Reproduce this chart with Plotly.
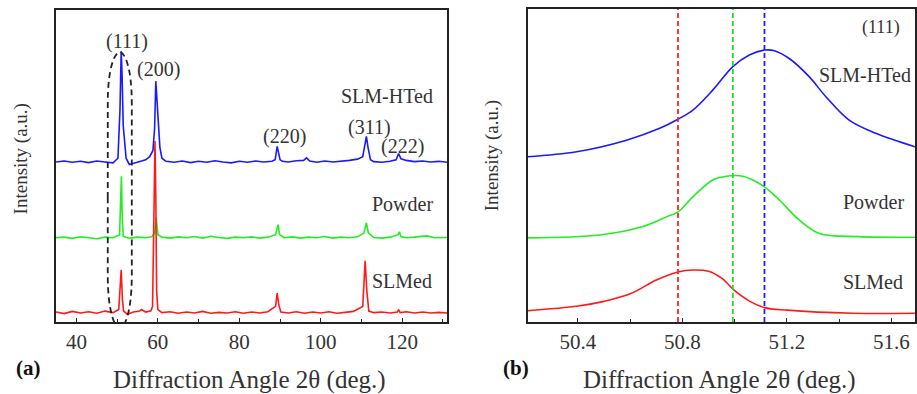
import plotly.graph_objects as go

# ---------------- Panel (a): full XRD patterns (a.u., offset stacked) ----------------
hted_x = [35, 37, 39, 41, 43, 45, 47, 49, 50.2, 50.7, 51.0, 51.2, 51.5, 51.8, 52.2, 53, 54, 55, 56, 57,
          58, 58.8, 59.2, 59.5, 59.8, 60.1, 60.5, 61, 62, 64, 66, 68, 70, 72, 74, 76, 78, 80, 82, 84,
          86, 88, 88.8, 89.3, 89.6, 90.0, 90.6, 92, 94, 95.8, 96.5, 97.3, 99, 101, 103, 105, 107, 109,
          110.3, 110.8, 111.2, 111.6, 112.2, 113, 115, 117, 118.5, 119.1, 119.7, 121, 123, 125, 127, 129, 131]
hted_y = [51.3, 51.6, 51.2, 51.5, 51.1, 51.6, 51.3, 51.0, 52.5, 68.0, 86.8, 80.0, 63.0, 58.0, 52.5, 50.5, 50.8, 51.3, 51.6, 52.0,
          53.0, 55.0, 62.0, 77.2, 70.0, 63.0, 56.0, 52.5, 51.5, 51.2, 51.6, 51.1, 51.5, 51.2, 51.7, 51.3, 51.0, 51.5, 51.2, 51.6,
          51.3, 51.5, 52.0, 56.3, 54.0, 52.0, 51.5, 51.3, 51.7, 51.8, 52.6, 51.6, 51.2, 51.6, 51.3, 51.5, 51.8, 52.2,
          53.0, 56.5, 59.5, 56.0, 52.0, 51.4, 51.2, 51.5, 52.0, 54.0, 52.3, 51.8, 51.4, 51.6, 51.3, 51.5, 51.2]

powder_x = [35, 37, 39, 41, 43, 45, 47, 49, 50.6, 50.9, 51.05, 51.25, 51.5, 53, 55, 57, 58.5, 59.2, 59.6, 60.0,
            61, 63, 65, 67, 69, 71, 73, 75, 77, 79, 81, 83, 85, 87, 88.9, 89.5, 89.9, 91, 93, 95,
            97, 99, 101, 103, 105, 107, 109, 110.6, 111.2, 111.7, 113, 115, 117, 119.0, 119.3, 119.7, 121, 123,
            126, 128, 131]
powder_y = [27.0, 27.2, 26.8, 27.3, 27.0, 26.7, 27.2, 27.0, 28.0, 40.0, 46.7, 34.0, 27.5, 26.8, 27.2, 27.0, 27.3, 28.5, 33.4, 28.0,
            27.2, 26.9, 27.3, 27.0, 27.4, 26.9, 27.5, 27.1, 26.8, 27.2, 27.0, 27.3, 26.9, 27.2, 28.0, 31.2, 28.0, 27.0, 27.3, 26.9,
            27.2, 27.0, 27.4, 26.9, 27.2, 27.0, 27.3, 28.5, 31.8, 28.5, 27.1, 26.9, 27.2, 28.0, 28.9, 27.3, 27.0, 27.2,
            27.6, 27.0, 27.1]

slmed_x = [35, 37, 39, 41, 43, 45, 47, 49, 50.4, 50.7, 51.0, 51.3, 51.6, 52.5, 54, 55.5, 56.0, 57, 58.3, 58.7,
           58.9, 59.1, 59.3, 59.5, 59.7, 60.0, 61, 63, 65, 67, 69, 71, 73, 75, 77, 79, 81, 83, 85, 87,
           88.9, 89.3, 89.7, 90.2, 92, 94, 96, 98, 100, 102, 104, 106, 108, 110.3, 110.6, 110.9, 111.3, 111.8, 113, 115,
           117, 118.8, 119.1, 119.5, 121, 123, 125, 127, 129, 131]
slmed_y = [3.2, 2.7, 3.4, 2.9, 3.3, 2.8, 3.5, 3.0, 4.0, 11.9, 16.7, 7.0, 3.5, 2.5, 3.2, 3.5, 4.0, 3.2, 3.6, 5.0,
           30.0, 33.0, 58.0, 40.0, 10.0, 4.0, 3.0, 3.3, 2.8, 3.2, 2.9, 3.4, 2.8, 3.1, 2.9, 3.3, 2.8, 3.2, 2.9, 3.3,
           5.0, 9.3, 5.5, 3.2, 2.9, 3.3, 2.8, 3.2, 2.9, 3.3, 2.8, 3.1, 3.4, 5.0, 15.0, 19.6, 10.0, 3.5, 3.0, 3.2,
           2.9, 3.2, 4.0, 3.0, 3.3, 2.9, 3.2, 2.9, 3.1, 2.9]

# ---------------- Panel (b): zoom on the (111) peak ----------------
hted_zx = [50.208, 50.395, 50.586, 50.713, 50.783, 50.840, 50.916, 50.993, 51.056, 51.114, 51.152, 51.209,
           51.285, 51.349, 51.438, 51.540, 51.690]
hted_zy = [52.8, 54.4, 58.1, 61.9, 64.8, 67.7, 74.1, 81.6, 85.3, 86.9, 86.7, 84.2, 78.4, 72.0, 64.5, 60.3, 56.0]

powder_zx = [50.208, 50.484, 50.649, 50.739, 50.783, 50.840, 50.916, 50.968, 51.031, 51.069, 51.114, 51.171,
             51.247, 51.324, 51.476, 51.690]
powder_zy = [26.9, 27.8, 30.5, 33.6, 35.2, 40.0, 45.4, 46.6, 46.6, 45.4, 43.2, 39.0, 32.6, 28.3, 27.3, 27.1]

slmed_zx = [50.208, 50.40, 50.50, 50.60, 50.70, 50.783, 50.84, 50.90, 50.95, 51.00, 51.06, 51.114, 51.20,
            51.451, 51.690]
slmed_zy = [3.6, 5.1, 6.6, 9.0, 13.4, 16.0, 16.6, 16.2, 14.0, 10.0, 6.5, 4.6, 3.8, 2.8, 2.8]

peak_positions = [50.783, 50.993, 51.114]   # SLMed, Powder, SLM-HTed (111) peak centres
peak_colors = ["#ff2020", "#20dd20", "#2020ff"]

# tick values
ticks_a = [40, 60, 80, 100, 120]
ticks_b = [50.4, 50.8, 51.2, 51.6]

BLUE, GREEN, RED = "#1a1aff", "#22ee22", "#ff1a1a"
FONT = "Liberation Serif"
TXT = "#333333"

fig = go.Figure()

# panel a traces (blue, green, red on top)
fig.add_trace(go.Scatter(x=hted_x, y=hted_y, mode="lines", line=dict(color=BLUE, width=1.6), xaxis="x", yaxis="y"))
fig.add_trace(go.Scatter(x=powder_x, y=powder_y, mode="lines", line=dict(color=GREEN, width=1.6), xaxis="x", yaxis="y"))
fig.add_trace(go.Scatter(x=slmed_x, y=slmed_y, mode="lines", line=dict(color=RED, width=1.6), xaxis="x", yaxis="y"))

# panel b traces
fig.add_trace(go.Scatter(x=hted_zx, y=hted_zy, mode="lines", line=dict(color=BLUE, width=1.6, shape="spline"), xaxis="x2", yaxis="y2"))
fig.add_trace(go.Scatter(x=powder_zx, y=powder_zy, mode="lines", line=dict(color=GREEN, width=1.6, shape="spline"), xaxis="x2", yaxis="y2"))
fig.add_trace(go.Scatter(x=slmed_zx, y=slmed_zy, mode="lines", line=dict(color=RED, width=1.6, shape="spline"), xaxis="x2", yaxis="y2"))
for p, c in zip(peak_positions, peak_colors):
    fig.add_trace(go.Scatter(x=[p, p], y=[0, 100], mode="lines",
                             line=dict(color=c, width=1.8, dash="5px,3px"), xaxis="x2", yaxis="y2"))

# dashed rounded outline around the (111) peaks in panel a
fig.add_shape(type="path", xref="x", yref="y",
              path="M 47.7,40 L 47.7,15 C 47.7,3 49.5,-2 50.65,-2 C 51.8,-2 53.6,3 53.6,15 "
                   "L 53.6,70 C 53.6,82 51.8,86.5 50.65,86.5 C 49.5,86.5 47.7,82 47.7,70 Z",
              line=dict(color="#222222", width=1.8, dash="6px,4px"))

axis_common = dict(showline=True, linecolor="#222222", linewidth=1.5, mirror=True, showgrid=False,
                   zeroline=False, ticks="inside", ticklen=4, tickcolor="#222222",
                   tickfont=dict(family=FONT, size=21, color=TXT))
yaxis_common = {k: v for k, v in axis_common.items() if k not in ("ticks", "ticklen", "tickcolor", "tickfont")}

fig.update_layout(
    width=917, height=394, margin=dict(l=0, r=0, t=0, b=0),
    paper_bgcolor="white", plot_bgcolor="white", showlegend=False,
    font=dict(family=FONT, color=TXT),
    xaxis=dict(domain=[0.0611, 0.4875], range=[35, 131], tickvals=ticks_a,
               minor=dict(dtick=10, ticks="inside", ticklen=3, tickcolor="#222222"), anchor="y", **axis_common),
    yaxis=dict(domain=[0.1827, 0.9746], range=[0, 100], showticklabels=False, anchor="x", **yaxis_common),
    xaxis2=dict(domain=[0.5755, 0.9978], range=[50.208, 51.69], tickvals=ticks_b, ticktext=["50.4", "50.8", "51.2", "51.6"],
                minor=dict(dtick=0.2, ticks="inside", ticklen=3, tickcolor="#222222"), anchor="y2", **axis_common),
    yaxis2=dict(domain=[0.1827, 0.977], range=[0, 100], showticklabels=False, anchor="x2", **yaxis_common),
)

def ann(text, x, y, xref, yref, size=20, bold=False, angle=0, color=TXT):
    fig.add_annotation(text=f"<b>{text}</b>" if bold else text, x=x, y=y, xref=xref, yref=yref,
                       showarrow=False, textangle=angle, xanchor="center", yanchor="middle",
                       font=dict(family=FONT, size=size, color=color))

# panel a labels
ann("(111)", 52.5, 90.0, "x", "y")
ann("(200)", 60.1, 81.0, "x", "y")
ann("SLM-HTed", 116.3, 72.4, "x", "y")
ann("(220)", 91.1, 59.6, "x", "y")
ann("(311)", 112.0, 62.3, "x", "y")
ann("(222)", 120.0, 56.4, "x", "y")
ann("Powder", 120.0, 37.9, "x", "y")
ann("SLMed", 120.0, 13.0, "x", "y")

# panel b labels
ann("(111)", 51.56, 94.2, "x2", "y2", size=18)
ann("SLM-HTed", 51.50, 78.9, "x2", "y2")
ann("Powder", 51.53, 38.4, "x2", "y2")
ann("SLMed", 51.53, 12.9, "x2", "y2")

# axis titles and panel letters
ann("Diffraction Angle 2θ (deg.)", 0.2726, 0.0355, "paper", "paper", size=25)
ann("Diffraction Angle 2θ (deg.)", 0.785, 0.0355, "paper", "paper", size=25)
ann("Intensity (a.u.)", 0.0229, 0.598, "paper", "paper", size=19, angle=-90)
ann("Intensity (a.u.)", 0.5365, 0.606, "paper", "paper", size=19, angle=-90)
ann("(a)", 0.0316, 0.066, "paper", "paper", size=21, bold=True, color="#111111")
ann("(b)", 0.5627, 0.066, "paper", "paper", size=21, bold=True, color="#111111")

fig.write_html("out.html", config={"displayModeBar": False})

# remove the default page margin so the 917x394 figure fills the window exactly
with open("out.html", "r", encoding="utf-8") as f:
    html = f.read()
html = html.replace("<head>", "<head><style>html,body{margin:0;padding:0;overflow:hidden;}</style>", 1)
with open("out.html", "w", encoding="utf-8") as f:
    f.write(html)
